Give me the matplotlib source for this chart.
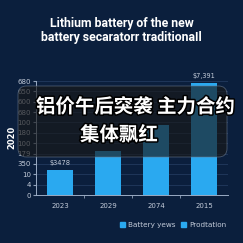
import matplotlib
matplotlib.use("Agg")
import matplotlib.pyplot as plt
import matplotlib.patheffects as pe
from matplotlib.patches import FancyBboxPatch, Patch

# data (bar heights are in tick-slot units, ticks are evenly spaced)
years = ['2023', '2029', '2074', '2015']
heights = [2.4, 4.25, 6.75, 10.8]
ytick_labels = ['0', '4', '10', '350', '179', '100', '180', '100', '680', '600', '650', '680']
bar_notes = {0: '$3478', 3: '$7,391'}
legend_names = ['Battery yews', 'Prodtation']

BG = '#0b1f3d'
BLUE = '#2aa9f0'
TXT = '#c3cbd9'

fig = plt.figure(figsize=(2.43, 2.43), dpi=100, facecolor=BG)
ax = fig.add_axes([36/243, 1 - 195/243, 192/243, 114/243], facecolor=BG)

x = list(range(len(years)))
ax.bar(x, heights, width=0.54, color=BLUE, zorder=2)
ax.set_xlim(-0.5, 3.5)
ax.set_ylim(0, 11)

ax.set_xticks(x)
ax.set_xticklabels(years, fontsize=5, color=TXT)
ax.set_xticks([0.5, 1.5, 2.5], minor=True)
ax.tick_params(axis='x', which='major', length=0, pad=6)
ax.tick_params(axis='x', which='minor', length=2, color='#8fa0b8')
ax.set_yticks(range(len(ytick_labels)))
ax.set_yticklabels(ytick_labels, fontsize=5, color=TXT)
ax.tick_params(axis='y', length=2, color='#8fa0b8', pad=1.5)
ax.grid(axis='y', color='#223a5e', linewidth=0.6, zorder=0)
for s in ['top', 'right']:
    ax.spines[s].set_visible(False)
for s in ['left', 'bottom']:
    ax.spines[s].set_color('#9aabc4')
    ax.spines[s].set_linewidth(0.7)

for i, note in bar_notes.items():
    ax.annotate(note, (x[i], heights[i]), xytext=(0, 3), textcoords='offset points',
                ha='center', va='bottom', fontsize=4.8, color=TXT)

fig.text(12/243, 1 - 137/243, '2020', rotation=90, ha='center', va='center',
         fontsize=6, fontweight='bold', color='white')

fig.text(0.5, 1 - 30.5/243, 'Lithium battery of the new\nbattery secaratorr traditionaIl',
         ha='center', va='center', fontsize=8.8, fontweight='bold', color='white',
         family='Roboto', linespacing=1.1)

handles = [Patch(color=BLUE), Patch(color=BLUE)]
fig.legend(handles, legend_names, loc='center right', bbox_to_anchor=(233/243, 1 - 225/243),
           ncol=2, frameon=False, fontsize=5.2, labelcolor=TXT, handlelength=0.7,
           handleheight=0.7, handletextpad=0.4, columnspacing=0.8)

# dark rounded overlay with the Chinese caption
box = FancyBboxPatch((18/243, 1 - 157/243), 209/243, 71/243,
                     boxstyle='round,pad=0,rounding_size=0.035',
                     transform=fig.transFigure, facecolor='#181818', alpha=0.65,
                     edgecolor='#6a7a90', linewidth=0.6, zorder=5)
fig.patches.append(box)

outline = [pe.withStroke(linewidth=2.2, foreground='black')]
fig.text(36/243, 1 - 107/243, '铝价午后突袭 主力合约', ha='left', va='center',
         fontsize=14, fontweight='bold', color='white',
         family=['Noto Sans CJK SC', 'DejaVu Sans'], path_effects=outline, zorder=6)
fig.text(119/243, 1 - 135/243, '集体飘红', ha='center', va='center',
         fontsize=14, fontweight='bold', color='white',
         family=['Noto Sans CJK SC', 'DejaVu Sans'], path_effects=outline, zorder=6)

fig.savefig('out.png', dpi=100, facecolor=BG)
